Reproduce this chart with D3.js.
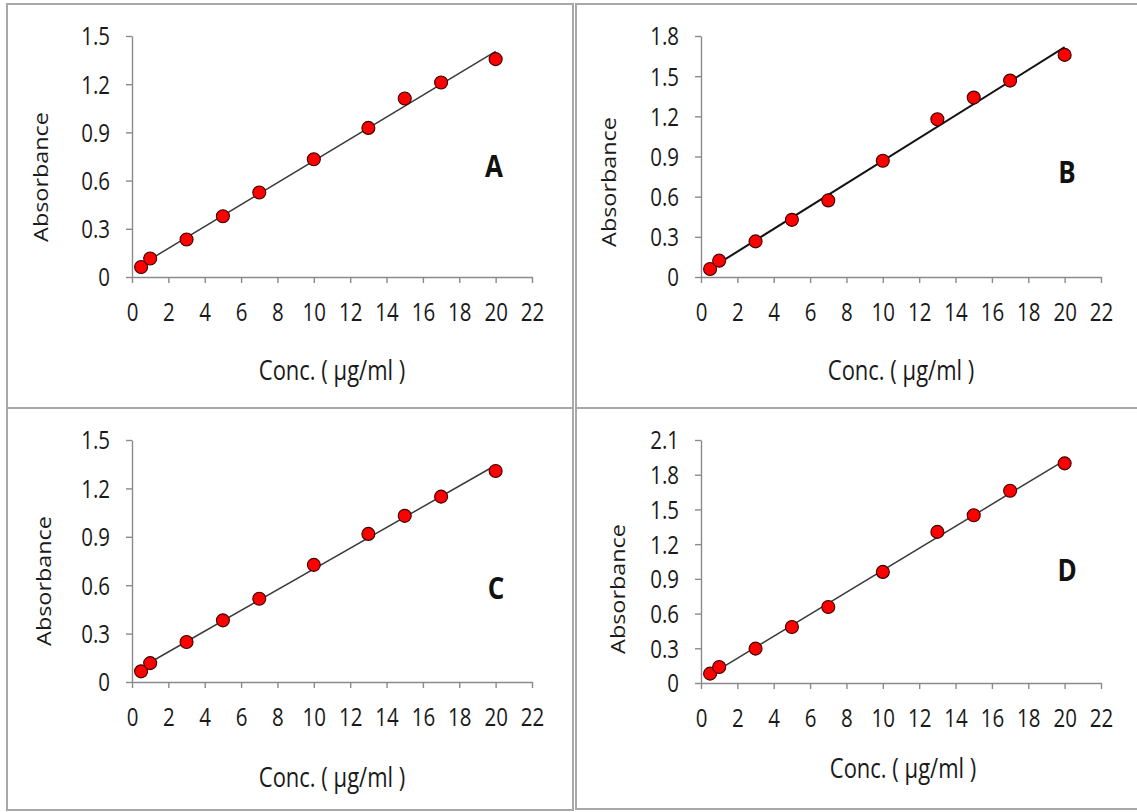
<!DOCTYPE html>
<html>
<head>
<meta charset="utf-8">
<script src="https://cdn.jsdelivr.net/npm/d3@7"></script>
<style>
  html,body{margin:0;padding:0;background:#fff;}
  svg{display:block;}
  text{font-family:"Open Sans","Noto Sans",sans-serif;fill:#1a1a1a;}
</style>
</head>
<body>
<svg id="chart" width="1137" height="812"></svg>
<script>
// ---------- data ----------
const conc = [0.5, 1, 3, 5, 7, 10, 13, 15, 17, 20];
const absA = [0.062, 0.115, 0.233, 0.378, 0.526, 0.733, 0.928, 1.111, 1.211, 1.356];
const absB = [0.060, 0.122, 0.266, 0.427, 0.572, 0.868, 1.178, 1.340, 1.467, 1.659];
const absC = [0.066, 0.117, 0.248, 0.382, 0.516, 0.726, 0.918, 1.030, 1.149, 1.308];
const absD = [0.081, 0.138, 0.297, 0.484, 0.657, 0.960, 1.306, 1.450, 1.661, 1.898];
const xTicks = [0, 2, 4, 6, 8, 10, 12, 14, 16, 18, 20, 22];
const yTicksA = [0, 0.3, 0.6, 0.9, 1.2, 1.5];
const yTicksB = [0, 0.3, 0.6, 0.9, 1.2, 1.5, 1.8];
const yTicksC = [0, 0.3, 0.6, 0.9, 1.2, 1.5];
const yTicksD = [0, 0.3, 0.6, 0.9, 1.2, 1.5, 1.8, 2.1];
const panelLetters = ["A", "B", "C", "D"];
const xTitle = "Conc. ( µg/ml )";
const yTitle = "Absorbance";

// ---------- layout ----------
const SY = 1.2; // vertical stretch of the original picture's text
const panels = [
  {vals: absA, ticks: yTicksA, letter: panelLetters[0], frame: [7, 4, 566, 404],
   plot: [132, 532, 36, 277], yT: [48, 177], xT: [332, 380], L: [494, 177], lineW: 1.5, lineC: "#3a3a3a"},
  {vals: absB, ticks: yTicksB, letter: panelLetters[1], frame: [576, 4, 570, 404],
   plot: [701, 1101, 36, 277], yT: [616, 182], xT: [901, 380], L: [1067, 183], lineW: 2, lineC: "#141414"},
  {vals: absC, ticks: yTicksC, letter: panelLetters[2], frame: [7, 408, 566, 402],
   plot: [132, 532, 440, 682], yT: [51, 581], xT: [332, 787], L: [496, 599], lineW: 1.5, lineC: "#3a3a3a"},
  {vals: absD, ticks: yTicksD, letter: panelLetters[3], frame: [576, 408, 570, 401],
   plot: [701, 1101, 440, 683], yT: [625, 589], xT: [903, 778], L: [1067, 581], lineW: 1.5, lineC: "#3a3a3a"}
];

const svg = d3.select("#chart");
svg.append("rect").attr("width", 1137).attr("height", 812).attr("fill", "#fff");

function regression(xs, ys) {
  const mx = d3.mean(xs), my = d3.mean(ys);
  let sxy = 0, sxx = 0;
  xs.forEach((x, i) => { sxy += (x - mx) * (ys[i] - my); sxx += (x - mx) * (x - mx); });
  const b = sxy / sxx;
  return {b, a: my - b * mx};
}

panels.forEach(p => {
  const [fx, fy, fw, fh] = p.frame;
  svg.append("rect").attr("x", fx).attr("y", fy).attr("width", fw).attr("height", fh)
    .attr("fill", "none").attr("stroke", "#a8a8a8").attr("stroke-width", 2);

  const [l, r, t, b] = p.plot;
  const x = d3.scaleLinear().domain([0, 22]).range([l, r]);
  const y = d3.scaleLinear().domain([0, d3.max(p.ticks)]).range([b, t]);

  const g = svg.append("g");

  // x axis
  const gx = g.append("g").attr("transform", `translate(0,${b})`)
    .call(d3.axisBottom(x).tickValues(xTicks).tickSize(6).tickSizeOuter(0).tickFormat(d3.format("d")));
  gx.selectAll("text").attr("y", 44.5 / SY).attr("dy", 0)
    .attr("transform", `scale(1,${SY})`).style("font-size", "20.5px").style("fill", "#1a1a1a");

  // y axis
  const gy = g.append("g").attr("transform", `translate(${l},0)`)
    .call(d3.axisLeft(y).tickValues(p.ticks).tickSize(6).tickSizeOuter(0)
      .tickFormat(d => d === 0 ? "0" : d3.format(".1f")(d)));
  gy.selectAll("text").attr("x", -22).attr("dy", "0.36em")
    .attr("transform", `scale(1,${SY})`).style("font-size", "20.5px").style("fill", "#1a1a1a");

  g.selectAll(".domain, .tick line").attr("stroke", "#8a8a8a").attr("stroke-width", 1.4);
  g.selectAll("g").attr("font-family", null).attr("font-size", null);

  // trend line
  const reg = regression(conc, p.vals);
  const ext = d3.extent(conc);
  const line = d3.line().x(d => x(d)).y(d => y(reg.a + reg.b * d));
  g.append("path").datum(ext).attr("d", line)
    .attr("fill", "none").attr("stroke", p.lineC).attr("stroke-width", p.lineW);

  // points
  g.selectAll("circle.pt").data(conc.map((c, i) => [c, p.vals[i]])).join("circle")
    .attr("class", "pt").attr("cx", d => x(d[0])).attr("cy", d => y(d[1])).attr("r", 6.5)
    .attr("fill", "#f00").attr("stroke", "#3a0000").attr("stroke-width", 1.1);

  // axis titles
  g.append("g").attr("transform", `translate(${p.xT[0]},${p.xT[1]}) scale(1,${SY})`)
    .append("text").attr("text-anchor", "middle").style("font-size", "22px").text(xTitle);
  g.append("g").attr("transform", `translate(${p.yT[0]},${p.yT[1]}) scale(1,${SY}) rotate(-90)`)
    .append("text").attr("text-anchor", "middle").style("font-size", "19.5px").text(yTitle);

  // panel letter
  g.append("g").attr("transform", `translate(${p.L[0]},${p.L[1]}) scale(1,${SY})`)
    .append("text").attr("text-anchor", "middle").style("font-size", "26px")
    .style("font-weight", "bold").style("fill", "#111").text(p.letter);
});
</script>
</body>
</html>
